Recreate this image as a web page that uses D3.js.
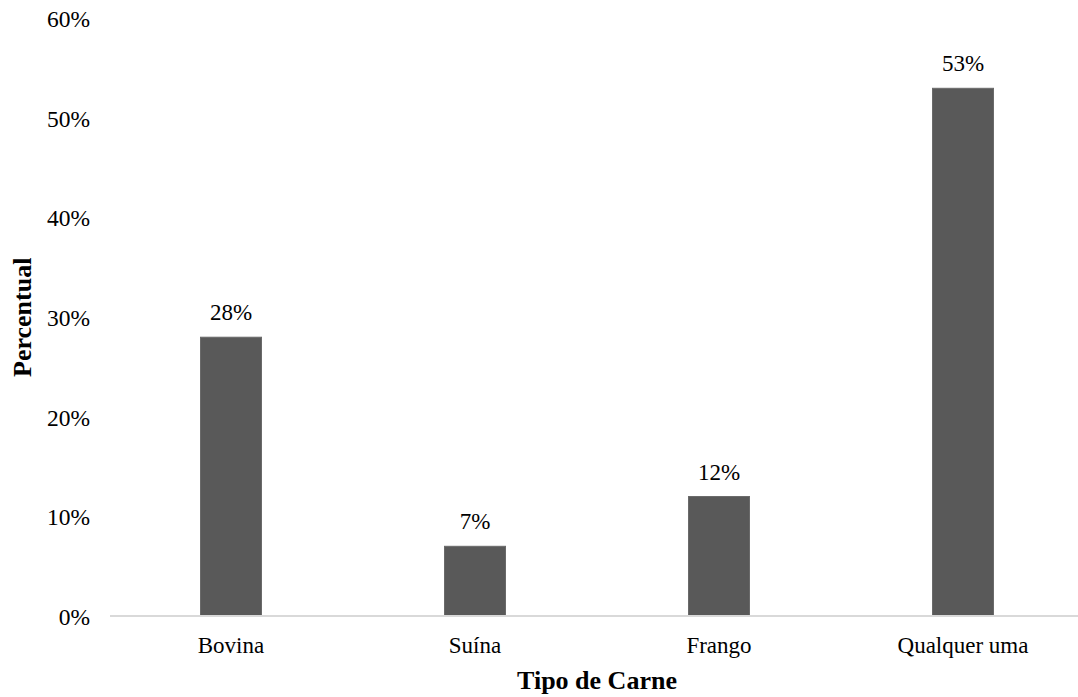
<!DOCTYPE html>
<html>
<head>
<meta charset="utf-8">
<script src="https://cdn.jsdelivr.net/npm/d3@7"></script>
<style>
  html, body { margin: 0; padding: 0; background: #fff; }
  svg { display: block; }
  text { font-family: "Liberation Serif", "Times New Roman", serif; fill: #000; }
</style>
</head>
<body>
<svg id="chart" width="1078" height="697"></svg>
<script>
// Preferred meat type (share of respondents)
const categories = ["Bovina", "Suína", "Frango", "Qualquer uma"];
const values = [0.28, 0.07, 0.12, 0.53];
const yTicks = [0, 0.1, 0.2, 0.3, 0.4, 0.5, 0.6];
const xTitle = "Tipo de Carne";
const yTitle = "Percentual";

const svg = d3.select("#chart");
const W = 1078, H = 697;

const x = d3.scaleBand()
  .domain(categories)
  .range([109, 1085])
  .paddingInner(0.75)
  .paddingOuter(0.375);

const y = d3.scaleLinear()
  .domain([0, 0.6])
  .range([616, 18.6]);

const pct = d3.format(".0%");

// y tick labels (no axis line, no gridlines)
const yAxis = d3.axisLeft(y)
  .tickValues(yTicks)
  .tickFormat(pct)
  .tickSize(0)
  .tickPadding(0);

svg.append("g")
  .attr("transform", "translate(90,0)")
  .call(yAxis)
  .call(g => g.select(".domain").remove())
  .selectAll("text")
  .attr("font-family", "Liberation Serif")
  .attr("font-size", 23.5)
  .attr("fill", "#000")
  .attr("dy", "0.35em");

// bars
svg.append("g")
  .selectAll("rect")
  .data(values)
  .join("rect")
  .attr("x", (d, i) => x(categories[i]))
  .attr("width", x.bandwidth())
  .attr("y", d => y(d))
  .attr("height", d => y(0) - y(d))
  .attr("fill", "#595959")
  .attr("stroke", "#6a6a6a")
  .attr("stroke-width", 1);

// baseline
svg.append("line")
  .attr("x1", 110)
  .attr("x2", W)
  .attr("y1", y(0))
  .attr("y2", y(0))
  .attr("stroke", "#d9d9d9")
  .attr("stroke-width", 2);

// value labels
svg.append("g")
  .selectAll("text")
  .data(values)
  .join("text")
  .attr("x", (d, i) => x(categories[i]) + x.bandwidth() / 2)
  .attr("y", d => y(d) - 17)
  .attr("text-anchor", "middle")
  .attr("font-size", 23)
  .text(d => pct(d));

// category labels
const xAxis = d3.axisBottom(x).tickSize(0).tickPadding(0);
svg.append("g")
  .attr("transform", `translate(0,${y(0)})`)
  .call(xAxis)
  .call(g => g.select(".domain").remove())
  .selectAll("text")
  .attr("font-family", "Liberation Serif")
  .attr("font-size", 23)
  .attr("fill", "#000")
  .attr("dy", null)
  .attr("y", 37);

// axis titles
svg.append("text")
  .attr("x", 597)
  .attr("y", 689)
  .attr("text-anchor", "middle")
  .attr("font-size", 26)
  .attr("font-weight", "bold")
  .text(xTitle);

svg.append("text")
  .attr("transform", `translate(31,${(y(0) + y(0.6)) / 2}) rotate(-90)`)
  .attr("text-anchor", "middle")
  .attr("font-size", 26)
  .attr("font-weight", "bold")
  .text(yTitle);
</script>
</body>
</html>
